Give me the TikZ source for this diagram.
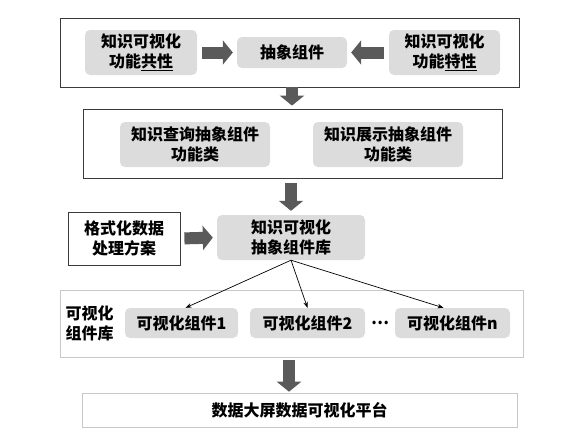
\documentclass[tikz,border=0pt]{standalone}
\usepackage{fontspec}
\setmainfont{Noto Sans CJK SC}
\usetikzlibrary{arrows.meta,positioning,calc}
\definecolor{boxgray}{HTML}{DCDCDC}
\definecolor{arrgray}{HTML}{5A5A5A}
\definecolor{framedark}{HTML}{3A3A3A}
\definecolor{framelight}{HTML}{C8C8C8}
\begin{document}
\begin{tikzpicture}[x=1pt,y=-1pt,
  txt/.style={font=\fontsize{16}{20}\selectfont\bfseries, align=center, text=black},
  gbox/.style={txt, fill=boxgray, rounded corners=5pt, inner sep=0pt},
  wbox/.style={txt, draw=framedark, line width=0.8pt, inner sep=0pt},
  frame/.style={draw=framedark, line width=0.8pt, inner sep=0pt},
  lframe/.style={draw=framelight, line width=0.6pt, inner sep=0pt},
  fatarrow/.style={draw=arrgray, line width=12pt, -{Triangle[length=10pt,width=24pt]}},
  thinarrow/.style={draw=black, line width=0.7pt, -{Stealth[length=6pt,width=4.5pt]}}
]
\useasboundingbox (0,0) rectangle (573,434);
% top frame
\node[frame, minimum width=459pt, minimum height=69pt] (f1) at (289.5,52.5) {};
\node[gbox, minimum width=112pt, minimum height=45pt] (common) at (141,52.5) {知识可视化\\功能\underline{共性}};
\node[gbox, minimum width=110pt, minimum height=31pt] (abs) at (292,52.5) {抽象组件};
\node[gbox, minimum width=111pt, minimum height=45pt] (special) at (444.5,52.5) {知识可视化\\功能\underline{特性}};
\draw[fatarrow, shorten <=5pt, shorten >=4pt] (common.east) -- (abs.west);
\draw[fatarrow, shorten <=5pt, shorten >=4pt] (special.west) -- (abs.east);
% second frame
\node[frame, minimum width=419pt, minimum height=69pt] (f2) at (292.5,143.5) {};
\node[gbox, minimum width=150pt, minimum height=45pt] (query) at (195,144.5) {知识查询抽象组件\\功能类};
\node[gbox, minimum width=150pt, minimum height=45pt] (show) at (388,144.5) {知识展示抽象组件\\功能类};
\draw[fatarrow, shorten <=0pt, shorten >=3pt] (f1.south -| abs.south) -- (f2.north -| abs.south);
% third row
\node[wbox, minimum width=112pt, minimum height=53pt] (fmt) at (124,238.5) {格式化数据\\处理方案};
\node[gbox, minimum width=148pt, minimum height=45pt] (lib) at (291,237.5) {知识可视化\\抽象组件库};
\draw[fatarrow, shorten <=4pt, shorten >=4pt] (fmt.east) -- (lib.west);
\draw[fatarrow, shorten <=5pt, shorten >=4pt] (f2.south -| lib.north) -- (lib.north);
% components frame
\node[lframe, minimum width=463pt, minimum height=67pt] (f3) at (291.5,323.5) {};
\node[txt, anchor=west] (clib) at (62,323.5) {可视化\\组件库};
\node[gbox, minimum width=113pt, minimum height=30pt] (c1) at (181.5,323) {可视化组件1};
\node[gbox, minimum width=115pt, minimum height=30pt] (c2) at (307.5,323) {可视化组件2};
\node[txt] (dots) at (380,323) {⋯};
\node[gbox, minimum width=115pt, minimum height=30pt] (cn) at (452.5,323) {可视化组件n};
\draw[thinarrow] (lib.south) -- ([xshift=4pt]c1.north);
\draw[thinarrow] (lib.south) -- (c2.north);
\draw[thinarrow] (lib.south) -- ([xshift=-9pt]cn.north);
% bottom
\node[lframe, txt, minimum width=435pt, minimum height=34pt] (plat) at (299.5,410) {数据大屏数据可视化平台};
\draw[fatarrow, shorten <=3pt, shorten >=1pt] (f3.south -| 289,0) -- (plat.north -| 289,0);
\end{tikzpicture}
\end{document}
